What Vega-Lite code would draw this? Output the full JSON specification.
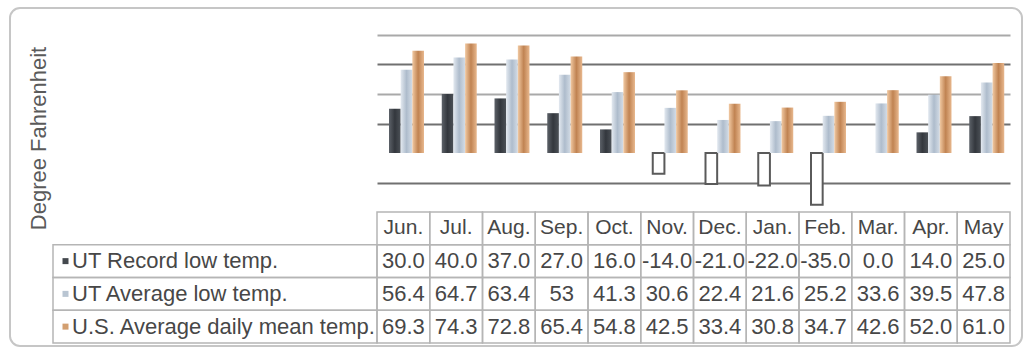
{
  "$schema": "https://vega.github.io/schema/vega-lite/v6.json",
  "width": 1012,
  "height": 338,
  "padding": {"left": 10, "top": 8, "right": 3, "bottom": 1},
  "autosize": {"type": "none"},
  "background": "white",
  "view": {"stroke": "#c6c6c6", "strokeWidth": 2, "cornerRadius": 10, "fill": "white"},
  "config": {"font": "Liberation Sans"},
  "datasets": {
    "temps": [
      {"month": "Jun", "series": "rec", "temp": 30.0, "label": "30.0"},
      {"month": "Jul", "series": "rec", "temp": 40.0, "label": "40.0"},
      {"month": "Aug", "series": "rec", "temp": 37.0, "label": "37.0"},
      {"month": "Sep", "series": "rec", "temp": 27.0, "label": "27.0"},
      {"month": "Oct", "series": "rec", "temp": 16.0, "label": "16.0"},
      {"month": "Nov", "series": "rec", "temp": -14.0, "label": "-14.0"},
      {"month": "Dec", "series": "rec", "temp": -21.0, "label": "-21.0"},
      {"month": "Jan", "series": "rec", "temp": -22.0, "label": "-22.0"},
      {"month": "Feb", "series": "rec", "temp": -35.0, "label": "-35.0"},
      {"month": "Mar", "series": "rec", "temp": 0.0, "label": "0.0"},
      {"month": "Apr", "series": "rec", "temp": 14.0, "label": "14.0"},
      {"month": "May", "series": "rec", "temp": 25.0, "label": "25.0"},
      {"month": "Jun", "series": "avg", "temp": 56.4, "label": "56.4"},
      {"month": "Jul", "series": "avg", "temp": 64.7, "label": "64.7"},
      {"month": "Aug", "series": "avg", "temp": 63.4, "label": "63.4"},
      {"month": "Sep", "series": "avg", "temp": 53, "label": "53"},
      {"month": "Oct", "series": "avg", "temp": 41.3, "label": "41.3"},
      {"month": "Nov", "series": "avg", "temp": 30.6, "label": "30.6"},
      {"month": "Dec", "series": "avg", "temp": 22.4, "label": "22.4"},
      {"month": "Jan", "series": "avg", "temp": 21.6, "label": "21.6"},
      {"month": "Feb", "series": "avg", "temp": 25.2, "label": "25.2"},
      {"month": "Mar", "series": "avg", "temp": 33.6, "label": "33.6"},
      {"month": "Apr", "series": "avg", "temp": 39.5, "label": "39.5"},
      {"month": "May", "series": "avg", "temp": 47.8, "label": "47.8"},
      {"month": "Jun", "series": "us", "temp": 69.3, "label": "69.3"},
      {"month": "Jul", "series": "us", "temp": 74.3, "label": "74.3"},
      {"month": "Aug", "series": "us", "temp": 72.8, "label": "72.8"},
      {"month": "Sep", "series": "us", "temp": 65.4, "label": "65.4"},
      {"month": "Oct", "series": "us", "temp": 54.8, "label": "54.8"},
      {"month": "Nov", "series": "us", "temp": 42.5, "label": "42.5"},
      {"month": "Dec", "series": "us", "temp": 33.4, "label": "33.4"},
      {"month": "Jan", "series": "us", "temp": 30.8, "label": "30.8"},
      {"month": "Feb", "series": "us", "temp": 34.7, "label": "34.7"},
      {"month": "Mar", "series": "us", "temp": 42.6, "label": "42.6"},
      {"month": "Apr", "series": "us", "temp": 52.0, "label": "52.0"},
      {"month": "May", "series": "us", "temp": 61.0, "label": "61.0"}
    ],
    "months": [
      {"month": "Jun", "head": "Jun."},
      {"month": "Jul", "head": "Jul."},
      {"month": "Aug", "head": "Aug."},
      {"month": "Sep", "head": "Sep."},
      {"month": "Oct", "head": "Oct."},
      {"month": "Nov", "head": "Nov."},
      {"month": "Dec", "head": "Dec."},
      {"month": "Jan", "head": "Jan."},
      {"month": "Feb", "head": "Feb."},
      {"month": "Mar", "head": "Mar."},
      {"month": "Apr", "head": "Apr."},
      {"month": "May", "head": "May"}
    ],
    "seriesNames": [
      {"series": "rec", "name": "UT Record low temp."},
      {"series": "avg", "name": "UT Average low temp."},
      {"series": "us", "name": "U.S. Average daily mean temp."}
    ]
  },
  "resolve": {"scale": {"x": "independent", "y": "independent"}},
  "layer": [
    {
      "data": {"name": "temps"},
      "encoding": {
        "x": {
          "field": "month", "type": "nominal", "sort": null,
          "scale": {"domain": ["Jun","Jul","Aug","Sep","Oct","Nov","Dec","Jan","Feb","Mar","Apr","May"], "range": [367, 1000], "paddingInner": 0, "paddingOuter": 0},
          "axis": null
        },
        "xOffset": {
          "field": "series", "type": "nominal",
          "scale": {"domain": ["rec", "avg", "us"], "range": [12, 47], "paddingInner": 0, "paddingOuter": 0}
        },
        "y": {
          "field": "temp", "type": "quantitative",
          "scale": {"domain": [-40, 80], "range": [204, 27], "nice": false, "zero": false},
          "axis": {
            "values": [-20, 20, 40, 60, 80],
            "grid": true,
            "gridColor": {"condition": {"test": "datum.value == 40 || datum.value == 80", "value": "#a9a9a9"}, "value": "#707070"},
            "gridWidth": 2,
            "labels": false,
            "ticks": false,
            "domain": false,
            "title": "Degree Fahrenheit",
            "titleFont": "Liberation Sans",
            "titleFontSize": 22,
            "titleFontWeight": "normal",
            "titleColor": "#5a5a5a",
            "titleAngle": -90,
            "titleAlign": "center",
            "titleBaseline": "middle",
            "titleX": 28,
            "titleY": 130
          }
        }
      },
      "layer": [
        {
          "transform": [{"filter": "datum.series == 'rec' && datum.temp >= 0"}],
          "mark": {"type": "bar", "fill": {"gradient": "linear", "x1": 0, "y1": 0, "x2": 1, "y2": 0, "stops": [{"offset": 0, "color": "#5c6168"}, {"offset": 0.5, "color": "#33373d"}, {"offset": 1, "color": "#4c5157"}]}}
        },
        {
          "transform": [{"filter": "datum.series == 'rec' && datum.temp < 0"}],
          "mark": {"type": "bar", "fill": "white", "stroke": "#5a5a5a", "strokeWidth": 2}
        },
        {
          "transform": [{"filter": "datum.series == 'avg'"}],
          "mark": {"type": "bar", "fill": {"gradient": "linear", "x1": 0, "y1": 0, "x2": 1, "y2": 0, "stops": [{"offset": 0, "color": "#e3e9f0"}, {"offset": 0.5, "color": "#aebccc"}, {"offset": 1, "color": "#d3dce6"}]}}
        },
        {
          "transform": [{"filter": "datum.series == 'us'"}],
          "mark": {"type": "bar", "fill": {"gradient": "linear", "x1": 0, "y1": 0, "x2": 1, "y2": 0, "stops": [{"offset": 0, "color": "#f1c9a2"}, {"offset": 0.5, "color": "#c08352"}, {"offset": 1, "color": "#e8b88e"}]}}
        }
      ]
    },
    {
      "encoding": {
        "x": {
          "field": "month", "type": "nominal", "sort": null,
          "scale": {"domain": ["Jun","Jul","Aug","Sep","Oct","Nov","Dec","Jan","Feb","Mar","Apr","May"], "range": [367, 1000], "paddingInner": 0, "paddingOuter": 0},
          "axis": null
        }
      },
      "layer": [
        {
          "data": {"name": "temps"},
          "mark": {"type": "rect", "fill": "transparent", "stroke": "#b5b5b5", "strokeWidth": 1.5},
          "encoding": {
            "y": {"field": "series", "type": "nominal", "scale": {"domain": ["hdr", "rec", "avg", "us"], "range": [204, 335], "paddingInner": 0, "paddingOuter": 0}, "axis": null}
          }
        },
        {
          "data": {"name": "months"},
          "mark": {"type": "rect", "fill": "transparent", "stroke": "#b5b5b5", "strokeWidth": 1.5},
          "encoding": {
            "y": {"datum": "hdr", "type": "nominal", "scale": {"domain": ["hdr", "rec", "avg", "us"], "range": [204, 335], "paddingInner": 0, "paddingOuter": 0}, "axis": null}
          }
        },
        {
          "data": {"name": "temps"},
          "mark": {"type": "text", "font": "Liberation Sans", "fontSize": 22, "color": "#474747", "align": "center", "baseline": "middle"},
          "encoding": {
            "y": {"field": "series", "type": "nominal", "scale": {"domain": ["hdr", "rec", "avg", "us"], "range": [204, 335], "paddingInner": 0, "paddingOuter": 0}, "axis": null},
            "text": {"field": "label", "type": "nominal"}
          }
        },
        {
          "data": {"name": "months"},
          "mark": {"type": "text", "font": "Liberation Sans", "fontSize": 21, "color": "#474747", "align": "center", "baseline": "middle"},
          "encoding": {
            "y": {"datum": "hdr", "type": "nominal", "scale": {"domain": ["hdr", "rec", "avg", "us"], "range": [204, 335], "paddingInner": 0, "paddingOuter": 0}, "axis": null},
            "text": {"field": "head", "type": "nominal"}
          }
        }
      ]
    },
    {
      "data": {"name": "seriesNames"},
      "encoding": {
        "y": {"field": "series", "type": "nominal", "scale": {"domain": ["hdr", "rec", "avg", "us"], "range": [204, 335], "paddingInner": 0, "paddingOuter": 0}, "axis": null}
      },
      "layer": [
        {
          "mark": {"type": "rect", "fill": "transparent", "stroke": "#b5b5b5", "strokeWidth": 1.5},
          "encoding": {
            "x": {"datum": "label", "type": "nominal", "scale": {"domain": ["label"], "range": [43, 367], "paddingInner": 0, "paddingOuter": 0}, "axis": null}
          }
        },
        {
          "mark": {"type": "square", "size": 36, "opacity": 1, "xOffset": 12.5},
          "encoding": {
            "x": {"datum": "label", "type": "nominal", "bandPosition": 0, "scale": {"domain": ["label"], "range": [43, 367], "paddingInner": 0, "paddingOuter": 0}, "axis": null},
            "color": {"field": "series", "type": "nominal", "scale": {"domain": ["rec", "avg", "us"], "range": ["#44484e", "#b9c5d2", "#d39f70"]}, "legend": null}
          }
        },
        {
          "mark": {"type": "text", "font": "Liberation Sans", "fontSize": 22, "color": "#474747", "align": "left", "baseline": "middle", "xOffset": 19},
          "encoding": {
            "x": {"datum": "label", "type": "nominal", "bandPosition": 0, "scale": {"domain": ["label"], "range": [43, 367], "paddingInner": 0, "paddingOuter": 0}, "axis": null},
            "text": {"field": "name", "type": "nominal"}
          }
        }
      ]
    }
  ]
}
